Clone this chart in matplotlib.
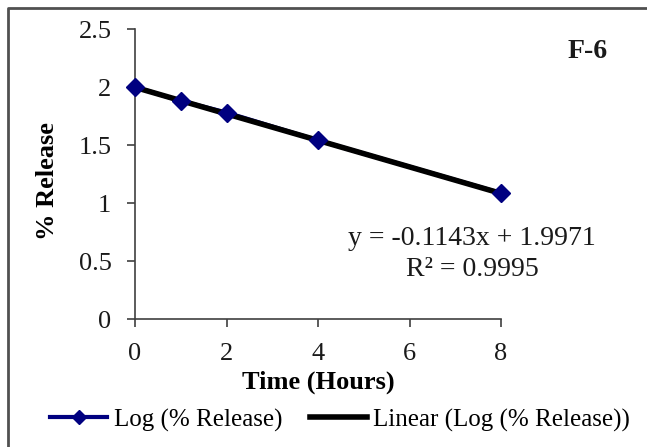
import numpy as np
import matplotlib
matplotlib.use("Agg")
import matplotlib.pyplot as plt
from matplotlib.lines import Line2D

# data
time_h = [0, 1, 2, 4, 8]
log_release = [2.0, 1.88, 1.78, 1.54, 1.085]
slope = -0.1143
intercept = 1.9971
r_squared = 0.9995
x_ticks = [0, 2, 4, 6, 8]
y_ticks = [0, 0.5, 1, 1.5, 2, 2.5]
y_tick_labels = ["0", "0.5", "1", "1.5", "2", "2.5"]

plt.rcParams["font.family"] = ["Liberation Serif", "DejaVu Serif"]

fig = plt.figure(figsize=(6.47, 4.47), dpi=100)
W, H = 647.0, 447.0
ax = fig.add_axes([135 / W, 1 - 319 / H, 366 / W, 290 / H])

# series line (under the trendline), trendline, then markers on top
ax.plot(time_h, log_release, color="#000080", lw=3, zorder=2, clip_on=False)
tx = np.array([time_h[0], time_h[-1]])
ax.plot(tx, slope * tx + intercept, color="black", lw=4, zorder=3,
        clip_on=False, solid_capstyle="butt")
ax.plot(time_h, log_release, ls="none", marker="D", ms=9, color="#000080",
        zorder=4, clip_on=False)

ax.set_xlim(0, 8)
ax.set_ylim(0, 2.5)
ax.set_xticks(x_ticks)
ax.set_yticks(y_ticks)
ax.set_yticklabels(y_tick_labels)
for s in ["top", "right"]:
    ax.spines[s].set_visible(False)
for s in ["left", "bottom"]:
    ax.spines[s].set_color("#404040")
    ax.spines[s].set_linewidth(1.2)
ax.tick_params(direction="out", length=6, width=1.2, color="#404040",
               labelsize=19, pad=11, labelcolor="#1a1a1a")

ax.set_xlabel("Time (Hours)", fontsize=19, fontweight="bold", va="center")
ax.xaxis.set_label_coords(0.5, (319 - 382) / 290.0)
ax.set_ylabel("% Release", fontsize=19, fontweight="bold", va="center")
ax.yaxis.set_label_coords((47 - 135) / 366.0, (319 - 181) / 290.0)

fig.text(588 / W, 1 - 52 / H, "F-6", fontsize=20, fontweight="bold",
         ha="center", va="center", color="#1a1a1a")
fig.text(472 / W, 1 - 238 / H, "y = %.4fx + %.4f" % (slope, intercept),
         fontsize=20, ha="center", va="center", color="#1a1a1a")
fig.text(472 / W, 1 - 270 / H, "R\u00b2 = %.4f" % r_squared,
         fontsize=20, ha="center", va="center", color="#1a1a1a")

handles = [
    Line2D([], [], color="#000080", lw=3, marker="D", ms=7),
    Line2D([], [], color="black", lw=4),
]
fig.legend(handles, ["Log (% Release)", "Linear (Log (% Release))"],
           loc="center", bbox_to_anchor=(340 / W, 1 - 420 / H), ncol=2,
           frameon=False, fontsize=18, handlelength=2.3, handletextpad=0.25,
           columnspacing=1.1, borderpad=0, borderaxespad=0)

# outer chart border (top and left edges only show in the crop)
fig.add_artist(Line2D([8 / W, 8 / W, 1.0], [0.0, 1 - 8 / H, 1 - 8 / H],
                      transform=fig.transFigure, color="#505050", lw=2))

fig.savefig("out.png", dpi=100)
